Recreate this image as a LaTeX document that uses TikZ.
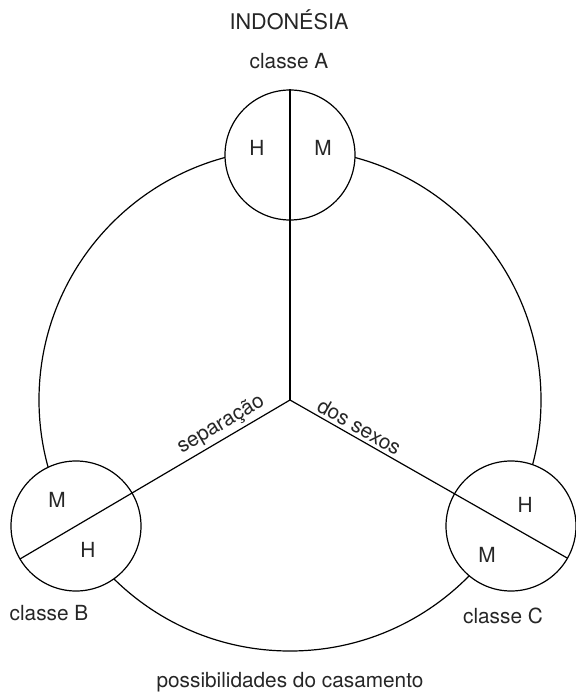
\documentclass[tikz,border=0pt]{standalone}
\usepackage{fontspec}
\setmainfont{TeX Gyre Heros}
\usetikzlibrary{calc}
\begin{document}
\begin{tikzpicture}[x=0.5pt,y=-0.5pt,
  ln/.style={line width=0.6pt,black},
  cls/.style={circle,draw,line width=0.6pt,fill=white,minimum size=65pt,inner sep=0pt},
  txt/.style={font=\fontsize{10.4}{12}\selectfont,text=black!85,anchor=base,inner sep=0pt},
  lbl/.style={font=\fontsize{10.4}{12}\selectfont,text=black!85}]
\useasboundingbox (0,0) rectangle (575,694);
\coordinate (O) at (290,400);
\draw[ln] (O) circle[radius=125.5pt];
\node[cls] (A) at (290,155) {};
\node[cls] (B) at (76,526) {};
\node[cls] (C) at (511,526) {};
\draw[ln] (O) -- (A.north);
\draw[ln] (O) -- ($(B)!-32.5pt!(O)$) node[lbl,pos=0.23,sloped,above,inner sep=1.5pt] {separação};
\draw[ln] (O) -- ($(C)!-32.5pt!(O)$) node[lbl,pos=0.23,sloped,above,inner sep=1.5pt] {dos sexos};
\node[txt,font=\fontsize{10.8}{13}\selectfont] (t) at (289,30) {INDONÉSIA};
\node[txt] (la) at (289,69) {classe A};
\node[txt] (lb) at (49,620) {classe B};
\node[txt] (lc) at (503,623) {classe C};
\node[txt] (lp) at (290,687) {possibilidades do casamento};
\node[txt] (ah) at (257,156) {H};
\node[txt] (am) at (323,156) {M};
\node[txt] (bm) at (57,507) {M};
\node[txt] (bh) at (88,557) {H};
\node[txt] (ch) at (525,512) {H};
\node[txt] (cm) at (487,562) {M};
\end{tikzpicture}
\end{document}
